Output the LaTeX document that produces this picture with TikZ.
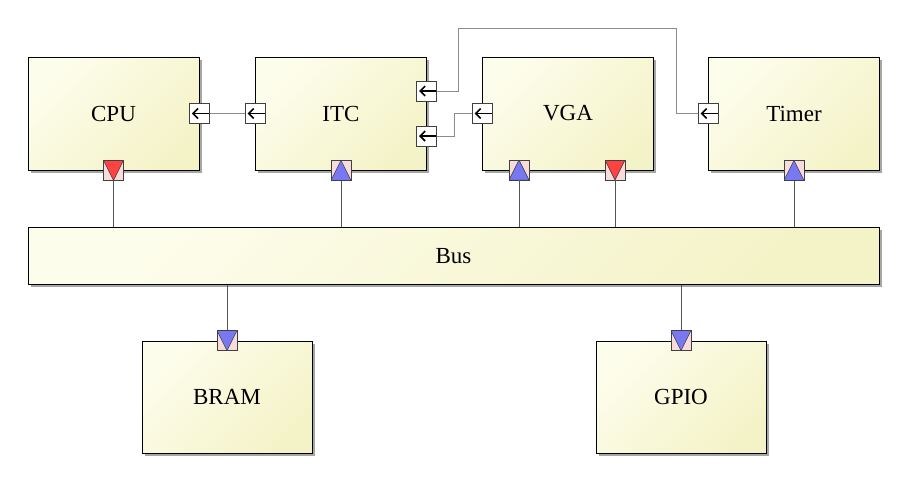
\documentclass[tikz,border=0pt]{standalone}
\usepackage{fontspec}
\setmainfont{Liberation Serif}
\usetikzlibrary{shadows,arrows.meta,calc}
\definecolor{boxA}{HTML}{FDFDEC}
\definecolor{boxB}{HTML}{F4F3C8}
\definecolor{portpink}{HTML}{F8DCDC}
\definecolor{trired}{HTML}{FF4242}
\definecolor{triblue}{HTML}{7878F2}
\definecolor{wire}{HTML}{8C8C8C}
\definecolor{buswire}{HTML}{555555}
\begin{document}
\begin{tikzpicture}[x=1pt,y=-1pt,
  block/.style={draw=black, line width=0.8pt, inner sep=0pt,
    minimum width=171pt, minimum height=113pt,
    top color=boxA, bottom color=boxB, shading angle=45,
    drop shadow={shadow xshift=2.5pt, shadow yshift=-2.5pt, opacity=0.35, fill=black},
    font=\fontsize{23}{26}\selectfont},
  portbase/.style={draw=black!75, line width=0.5pt, minimum size=20pt, inner sep=0pt},
  arrowport/.style={portbase, fill=white,
    path picture={\draw[draw=black, line width=1.6pt,
        -{Straight Barb[length=5pt,width=10pt,line width=1.6pt]}]
      ([xshift=-0.3pt]path picture bounding box.east) -- ([xshift=2.5pt]path picture bounding box.west);}},
  triup/.style={portbase, fill=portpink,
    path picture={\filldraw[fill=#1, draw=black!80, line width=0.5pt]
      (path picture bounding box.south west) -- (path picture bounding box.south east)
      -- (path picture bounding box.north) -- cycle;}},
  tridown/.style={portbase, fill=portpink,
    path picture={\filldraw[fill=#1, draw=black!80, line width=0.5pt]
      (path picture bounding box.north west) -- (path picture bounding box.north east)
      -- (path picture bounding box.south) -- cycle;}},
  wireline/.style={draw=wire, line width=0.9pt},
  busline/.style={draw=buswire, line width=0.7pt},
]
\useasboundingbox (0,0) rectangle (908,480);

% blocks
\node[block] (cpu)   at (113.5,113.5) {CPU};
\node[block] (itc)   at (341,113.5)   {ITC};
\node[block] (vga)   at (568,113.5)   {VGA};
\node[block] (timer) at (794,113.5)   {Timer};
\node[block, minimum width=851pt, minimum height=57pt] (bus) at (453.5,256) {Bus};
\node[block, minimum width=170pt, minimum height=112pt] (bram) at (227,397) {BRAM};
\node[block, minimum width=170pt, minimum height=112pt] (gpio) at (681,397) {GPIO};

% ports
\node[arrowport] (cpuE) at (cpu.east) {};
\node[tridown=trired] (cpuS) at (cpu.south) {};
\node[arrowport] (itcW) at (itc.west) {};
\node[arrowport] (itcE1) at (426.5,91) {};
\node[arrowport] (itcE2) at (426.5,136) {};
\node[triup=triblue] (itcS) at (itc.south) {};
\node[arrowport] (vgaW) at (vga.west) {};
\node[triup=triblue] (vgaS1) at (519,170) {};
\node[tridown=trired] (vgaS2) at (615,170) {};
\node[arrowport] (timW) at (timer.west) {};
\node[triup=triblue] (timS) at (timer.south) {};
\node[tridown=triblue] (bramN) at (bram.north) {};
\node[tridown=triblue] (gpioN) at (gpio.north) {};

% interrupt / signal wires
\draw[wireline] (cpuE.east) -- (itcW.west);
\coordinate (t1) at (458,28);
\coordinate (t2) at (676,113.5);
\draw[wireline] (itcE1.east) -| (t1) -| (t2) -- (timW.west);
\coordinate (v1) at (454,113.5);
\draw[wireline] (itcE2.east) -| (v1) -- (vgaW.west);

% bus wires
\draw[busline] (cpuS.south) -- (cpuS.south |- bus.north);
\draw[busline] (itcS.south) -- (itcS.south |- bus.north);
\draw[busline] (vgaS1.south) -- (vgaS1.south |- bus.north);
\draw[busline] (vgaS2.south) -- (vgaS2.south |- bus.north);
\draw[busline] (timS.south) -- (timS.south |- bus.north);
\draw[busline] (bus.south -| bramN.north) -- (bramN.north);
\draw[busline] (bus.south -| gpioN.north) -- (gpioN.north);
\end{tikzpicture}
\end{document}
